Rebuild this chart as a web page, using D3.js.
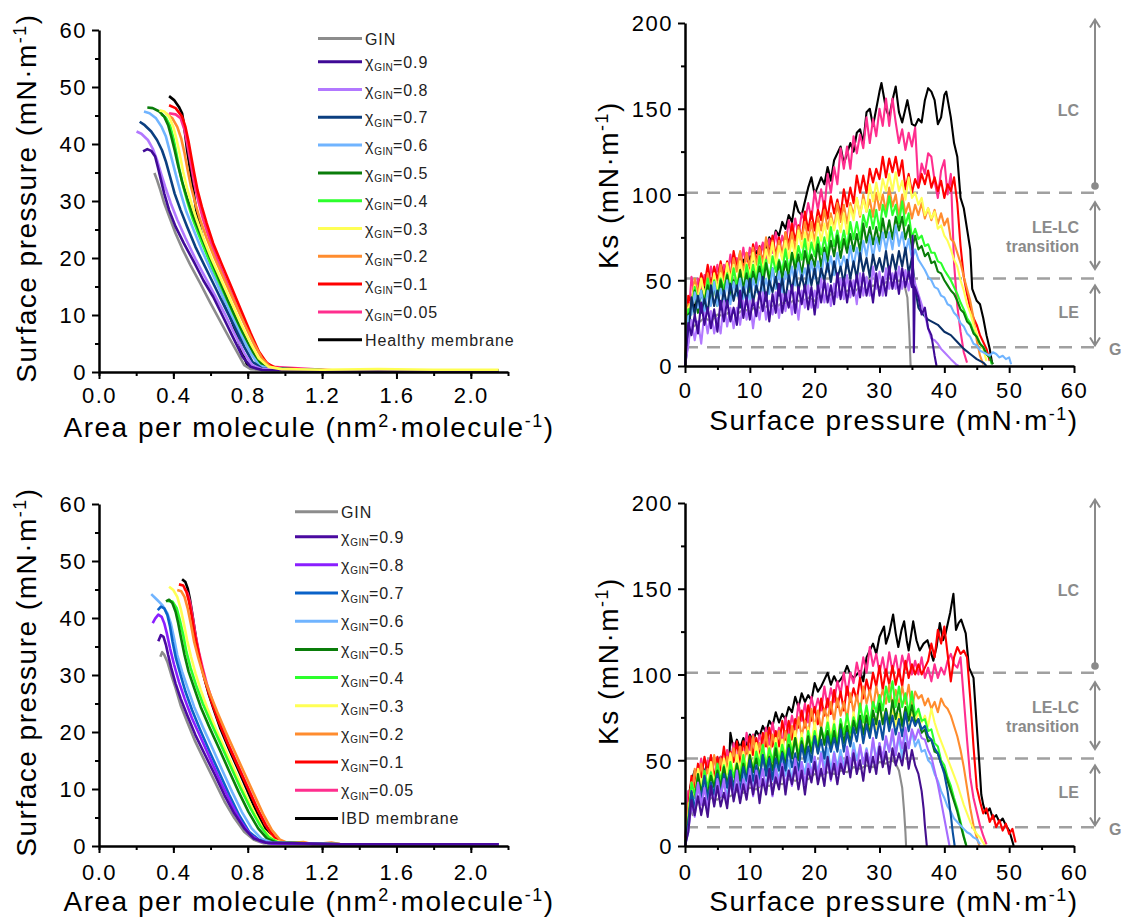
<!DOCTYPE html>
<html><head><meta charset="utf-8">
<script src="https://cdn.jsdelivr.net/npm/d3@7"></script>
<style>
body{margin:0;background:#fff;}
svg{display:block;font-family:"Liberation Sans",Arial,sans-serif;}
</style></head><body>
<svg id="c" width="1128" height="919"></svg>
<script>
// ---------- labels, colours, ticks ----------
const legendValues = ["GIN","0.9","0.8","0.7","0.6","0.5","0.4","0.3","0.2","0.1","0.05","MEMBRANE"];
const membraneTop = "Healthy membrane";
const membraneBottom = "IBD membrane";
const colorsTopIso = ["#8c8c8c","#3f0a96","#b278ff","#0b3f80","#70b4ff","#0a7d0a","#2cff2c","#ffff55","#ff8c2e","#ff0000","#ff2e8e","#000000"];
const colorsTopKs  = ["#8c8c8c","#3f0a96","#b278ff","#0a2f66","#70b4ff","#0a7d0a","#2cff2c","#ffff55","#ff8c2e","#ff0000","#ff2e8e","#000000"];
const colorsBotIso = ["#8c8c8c","#4a0aa0","#8a1fff","#0a62c8","#70b4ff","#0a7d0a","#2cff2c","#ffff55","#ff8c2e","#ff0000","#ff2e8e","#000000"];
const colorsBotKs  = ["#8c8c8c","#45108f","#a66cff","#0a4f9e","#70b4ff","#0a7d0a","#2cff2c","#ffff55","#ff8c2e","#ff0000","#ff2e8e","#000000"];
const isoXMajor = [0,0.4,0.8,1.2,1.6,2.0];
const isoXMinor = [0,0.2,0.4,0.6,0.8,1.0,1.2,1.4,1.6,1.8,2.0,2.2];
const isoYMajor = [0,10,20,30,40,50,60];
const isoYMinor = [5,15,25,35,45,55];
const ksXMajor = [0,10,20,30,40,50,60];
const ksXMinor = [5,15,25,35,45,55];
const ksYMajor = [0,50,100,150,200];
const ksYMinor = [25,75,125,175];
const phaseLines = [101,51,11];
const phaseLabels = ["LC","LE-LC","transition","LE","G"];
const phaseLabelKs = [149,81,70,31.5,10];

// ---------- top isotherms [area, pressure] ----------
const isoT_GIN=[[0.298,34.9],[0.312,33.7],[0.33,31.9],[0.351,29.6],[0.377,27.3],[0.412,24.3],[0.447,21.7],[0.491,18.8],[0.544,15.6],[0.596,12.3],[0.649,9.1],[0.702,5.9],[0.746,3.3],[0.781,1.2],[0.816,0.5],[0.9,0.3],[1.3,0.2],[1.8,0.2],[2.15,0.2]];
const isoT_09=[[0.237,38.7],[0.26,39.1],[0.281,38.8],[0.302,37.8],[0.316,36.0],[0.333,33.7],[0.351,31.3],[0.377,28.4],[0.412,25.5],[0.456,22.6],[0.509,19.4],[0.561,16.1],[0.614,13.2],[0.667,9.7],[0.719,6.2],[0.772,2.7],[0.816,0.9],[0.877,0.35],[1.3,0.2],[1.8,0.2],[2.15,0.2]];
const isoT_08=[[0.202,42.2],[0.228,41.8],[0.263,40.7],[0.289,39.2],[0.312,37.2],[0.333,34.9],[0.356,32.5],[0.386,29.6],[0.421,26.7],[0.465,23.5],[0.518,19.9],[0.57,16.7],[0.623,13.5],[0.675,10.3],[0.728,6.8],[0.781,3.3],[0.825,1.2],[0.877,0.5],[1.3,0.2],[1.8,0.2],[2.15,0.2]];
const isoT_07=[[0.219,43.9],[0.246,43.3],[0.281,42.2],[0.312,40.7],[0.339,38.9],[0.36,36.9],[0.382,34.3],[0.407,31.3],[0.439,28.4],[0.474,25.5],[0.518,22.0],[0.57,18.5],[0.623,15.0],[0.675,11.5],[0.728,8.0],[0.781,4.4],[0.825,1.8],[0.877,0.6],[1.3,0.2],[1.8,0.2],[2.15,0.2]];
const isoT_06=[[0.242,45.7],[0.272,45.4],[0.307,44.5],[0.337,43.0],[0.36,41.3],[0.377,39.2],[0.395,36.9],[0.418,34.0],[0.442,31.1],[0.47,28.1],[0.509,24.9],[0.553,21.4],[0.605,17.6],[0.658,13.8],[0.711,10.0],[0.763,6.5],[0.816,3.3],[0.86,1.2],[0.912,0.6],[1.3,0.2],[1.8,0.2],[2.15,0.2]];
const isoT_05=[[0.26,46.4],[0.289,46.3],[0.325,45.7],[0.351,44.8],[0.372,43.3],[0.389,41.3],[0.407,38.9],[0.425,36.3],[0.447,33.4],[0.474,30.5],[0.505,27.5],[0.544,24.3],[0.588,20.8],[0.64,16.7],[0.693,12.6],[0.746,8.8],[0.798,5.3],[0.842,2.7],[0.886,1.1],[0.93,0.6],[1.3,0.2],[1.8,0.2],[2.15,0.2]];
const isoT_04=[[0.335,45.2],[0.36,44.6],[0.382,43.2],[0.4,41.0],[0.416,38.4],[0.432,35.6],[0.452,32.7],[0.476,29.8],[0.505,26.8],[0.54,23.8],[0.582,20.4],[0.632,16.6],[0.685,12.8],[0.738,9.0],[0.79,5.5],[0.836,2.8],[0.88,1.1],[0.925,0.6],[1.3,0.2],[1.8,0.2],[2.15,0.2]];
const isoT_03=[[0.325,45.9],[0.351,45.7],[0.377,44.8],[0.4,43.0],[0.418,40.7],[0.435,38.1],[0.453,35.1],[0.474,32.2],[0.5,29.3],[0.526,26.7],[0.561,23.5],[0.605,19.9],[0.658,16.1],[0.711,12.3],[0.763,8.5],[0.816,5.0],[0.86,2.4],[0.912,0.9],[0.982,0.5],[1.2,0.4],[1.5,0.5],[1.8,0.4],[2.15,0.4]];
const isoT_02=[[0.36,45.4],[0.395,44.5],[0.421,43.0],[0.442,41.0],[0.46,38.4],[0.477,35.4],[0.495,32.5],[0.518,29.6],[0.544,26.7],[0.579,23.5],[0.623,19.9],[0.675,16.1],[0.728,12.3],[0.781,8.5],[0.833,5.0],[0.877,2.4],[0.921,0.9],[0.97,0.5],[1.3,0.2],[1.8,0.2],[2.15,0.2]];
const isoT_01=[[0.377,46.8],[0.412,46.3],[0.447,44.8],[0.465,43.0],[0.482,40.4],[0.496,37.8],[0.512,34.9],[0.53,31.9],[0.553,29.0],[0.579,26.1],[0.614,22.6],[0.658,19.1],[0.711,15.0],[0.763,10.9],[0.816,6.8],[0.86,3.6],[0.904,1.5],[0.947,0.8],[0.98,0.6],[1.3,0.2],[1.8,0.2],[2.15,0.2]];
const isoT_005=[[0.377,45.4],[0.412,45.2],[0.439,44.5],[0.46,42.5],[0.477,39.5],[0.495,36.3],[0.512,33.1],[0.535,29.9],[0.561,26.7],[0.596,23.2],[0.64,19.4],[0.693,15.3],[0.746,11.2],[0.798,7.4],[0.842,4.4],[0.886,2.1],[0.93,0.9],[1.3,0.2],[1.8,0.2],[2.15,0.2]];
const isoT_H=[[0.377,48.4],[0.404,47.7],[0.43,46.5],[0.447,45.4],[0.456,43.6],[0.465,41.3],[0.474,38.9],[0.488,36.0],[0.5,33.7],[0.512,30.8],[0.526,27.8],[0.547,24.9],[0.57,22.0],[0.605,18.5],[0.649,15.0],[0.693,10.9],[0.737,6.8],[0.772,3.3],[0.798,1.2],[0.833,0.6],[1.3,0.2],[1.8,0.2],[2.15,0.2]];

// ---------- bottom isotherms ----------
const isoB_GIN=[[0.33,33.2],[0.34,34.0],[0.35,33.6],[0.368,32.3],[0.389,30.0],[0.412,27.7],[0.439,24.7],[0.474,21.8],[0.518,18.3],[0.57,14.8],[0.623,11.3],[0.675,7.8],[0.728,4.9],[0.781,2.5],[0.833,1.1],[0.886,0.5],[1.3,0.3],[1.8,0.3],[2.15,0.3]];
const isoB_09=[[0.319,35.9],[0.333,37.0],[0.347,36.7],[0.36,35.3],[0.372,33.5],[0.389,31.2],[0.412,28.5],[0.439,25.9],[0.474,23.0],[0.518,19.5],[0.57,16.0],[0.623,12.5],[0.675,8.9],[0.728,5.7],[0.781,3.1],[0.833,1.3],[0.895,0.6],[1.3,0.3],[1.8,0.3],[2.15,0.3]];
const isoB_08=[[0.289,39.1],[0.302,39.9],[0.319,40.6],[0.337,40.2],[0.351,39.1],[0.365,37.3],[0.382,34.7],[0.404,31.8],[0.43,28.8],[0.46,25.9],[0.5,22.4],[0.553,18.6],[0.605,14.8],[0.658,11.0],[0.711,7.5],[0.763,4.3],[0.816,1.9],[0.868,0.8],[0.93,0.4],[1.3,0.3],[1.8,0.3],[2.15,0.3]];
const isoB_07=[[0.316,41.4],[0.333,42.0],[0.351,41.7],[0.368,40.5],[0.382,38.5],[0.396,35.8],[0.414,32.9],[0.439,30.0],[0.465,27.1],[0.5,23.9],[0.544,20.4],[0.596,16.5],[0.649,12.7],[0.702,8.9],[0.754,5.4],[0.807,2.5],[0.86,1.1],[0.912,0.5],[1.3,0.3],[1.8,0.3],[2.15,0.3]];
const isoB_06=[[0.281,44.2],[0.312,43.2],[0.342,42.2],[0.368,40.8],[0.386,39.1],[0.404,36.4],[0.421,33.5],[0.447,30.6],[0.477,27.7],[0.512,24.4],[0.558,20.9],[0.611,17.1],[0.663,13.3],[0.716,9.5],[0.768,6.0],[0.821,3.1],[0.874,1.3],[0.93,0.6],[1.3,0.3],[1.8,0.3],[2.15,0.3]];
const isoB_05=[[0.36,42.9],[0.377,43.2],[0.395,42.6],[0.412,41.1],[0.426,39.1],[0.442,36.4],[0.46,33.5],[0.482,30.6],[0.512,27.7],[0.547,24.4],[0.593,20.9],[0.646,17.1],[0.698,13.3],[0.751,9.5],[0.804,6.0],[0.856,3.1],[0.904,1.3],[0.956,0.6],[1.3,0.3],[1.8,0.3],[2.15,0.3]];
const isoB_04=[[0.368,43.0],[0.395,42.9],[0.418,41.7],[0.435,39.6],[0.453,37.0],[0.47,34.1],[0.493,31.2],[0.522,28.2],[0.558,25.0],[0.604,21.5],[0.657,17.7],[0.709,13.9],[0.762,10.1],[0.815,6.6],[0.866,3.6],[0.914,1.5],[0.965,0.6],[1.3,0.3],[1.8,0.3],[2.15,0.3]];
const isoB_03=[[0.377,45.5],[0.4,44.9],[0.421,43.7],[0.439,41.7],[0.456,39.1],[0.474,36.1],[0.495,33.2],[0.519,30.3],[0.547,27.4],[0.582,24.2],[0.628,20.6],[0.681,16.8],[0.733,13.0],[0.786,9.2],[0.839,5.7],[0.886,2.8],[0.939,1.1],[0.991,0.5],[1.3,0.3],[1.8,0.3],[2.15,0.3]];
const isoB_02=[[0.421,44.9],[0.442,44.7],[0.46,43.7],[0.477,41.7],[0.495,38.8],[0.512,35.8],[0.535,32.9],[0.561,30.0],[0.596,26.8],[0.635,23.6],[0.681,20.1],[0.733,16.3],[0.786,12.5],[0.839,8.7],[0.886,5.4],[0.93,2.8],[0.974,1.1],[1.018,0.5],[1.1,0.7],[1.15,0.3],[1.25,0.6],[1.3,0.3],[1.8,0.3],[2.15,0.3]];
const isoB_01=[[0.43,45.9],[0.453,45.7],[0.47,44.6],[0.484,42.9],[0.498,40.5],[0.512,37.6],[0.53,34.7],[0.549,31.8],[0.572,28.8],[0.602,25.6],[0.64,22.1],[0.688,18.3],[0.74,14.5],[0.793,10.7],[0.846,6.9],[0.895,3.7],[0.944,1.5],[0.991,0.6],[1.3,0.3],[1.8,0.3],[2.15,0.3]];
const isoB_005=[[0.46,45.2],[0.477,44.3],[0.491,42.6],[0.505,39.9],[0.519,37.0],[0.537,34.1],[0.558,31.2],[0.582,28.2],[0.614,25.0],[0.653,21.5],[0.698,17.7],[0.751,13.9],[0.804,10.1],[0.856,6.3],[0.904,3.4],[0.947,1.3],[0.991,0.6],[1.3,0.3],[1.8,0.3],[2.15,0.3]];
const isoB_IBD=[[0.447,46.8],[0.465,46.3],[0.477,45.2],[0.488,43.5],[0.5,41.1],[0.512,38.5],[0.526,35.6],[0.544,32.6],[0.565,29.7],[0.589,26.8],[0.618,23.9],[0.653,20.6],[0.698,17.1],[0.746,13.6],[0.793,10.1],[0.839,6.6],[0.881,3.7],[0.926,1.5],[0.974,0.6],[1.3,0.3],[1.8,0.3],[2.15,0.3]];

// ---------- compressibility: Ks read at these surface pressures, then tails [pressure, Ks] ----------
const piGrid=[0,0.5,1,1.5,2,2.5,3,3.5,4,4.5,5,5.5,6,6.5,7,7.5,8,8.5,9,9.5,10,10.5,11,11.5,12,12.5,13,13.5,14,14.5,15,15.5,16,16.5,17,17.5,18,18.5,19,19.5,20,20.5,21,21.5,22,22.5,23,23.5,24,24.5,25,25.5,26,26.5,27,27.5,28,28.5,29,29.5,30,30.5,31,31.5,32,32.5,33,33.5,34,34.5,35];

// top panel (healthy)
const ksT_GIN=[[0,2],[0.5,15],[1,22],[2,25],[3,28],[4,26],[5,30],[6,29],[7,32],[8,30],[9,33],[10,32],[11,35],[12,33],[13,36],[14,34],[15,37],[16,36],[17,39],[18,37],[19,40],[20,38],[21,41],[22,40],[23,43],[24,41],[25,44],[26,43],[27,46],[28,44],[29,47],[30,46],[31,49],[32,47],[33,50],[33.8,48],[34.3,40],[34.6,20],[34.8,0]];
const ksT_09_body=[0,25,18,30,19,37,24,34,22,33,20,38,26,38,26,34,24,44,28,40,27,39,29,43,32,43,26,42,31,48,31,42,34,47,31,46,36,47,33,46,30,47,37,50,37,47,36,54,39,51,37,50,41,53,40,54,41,50,37,54,41,52,41,58,45,55,42,57,46,55,46];
const ksT_09_tail=[[35.1,76],[35.25,35],[35.3,8],[35.45,46],[36,40],[36.5,30],[37,34],[37.5,22],[38,18],[38.5,6],[38.8,0]];
const ksT_08_body=[0,12,27,15,26,13,31,19,32,19,28,19,38,23,34,22,34,24,38,27,38,22,37,27,43,27,38,30,43,28,42,32,44,30,43,27,44,34,47,34,44,34,51,37,48,35,48,40,51,39,53,40,50,36,54,41,52,41,58,45,55,41,57,45,54,45,58,45,56,44,56];
const ksT_08_tail=[[35.5,48],[36,42],[36.5,36],[37,30],[37.5,22],[38,16],[38.5,15],[39,13],[39.5,10],[40,8],[41,4],[41.8,1],[42.2,0]];
const ksT_07_body=[0,14,40,30,41,31,39,31,47,35,44,33,44,35,48,38,47,34,46,38,51,37,47,40,52,38,50,43,52,41,51,38,53,44,56,44,53,44,59,47,57,45,57,50,60,49,61,51,58,48,62,51,61,51,66,55,63,52,65,56,63,55,67,54,65,56,67,58,69,54,63];
const ksT_07_tail=[[35.5,45],[36,34],[36.5,31],[37,29],[37.5,27],[38,26],[39,24],[40,20],[41,18],[42,14],[43,10],[44,7],[45,4],[46,2],[46.5,0]];
const ksT_06_body=[0,29,30,43,34,44,31,44,35,49,35,45,38,50,36,49,41,51,39,50,37,51,43,54,43,51,42,57,45,55,43,55,48,58,47,60,50,57,47,61,51,61,51,66,55,64,53,66,57,64,57,70,58,69,61,73,64,76,63,75,67,78,68,78,68,82,70,78,66,74,62];
const ksT_06_tail=[[35.5,68],[36,62],[36.5,59],[37,56],[37.5,52],[38,50],[38.5,46],[39,45],[39.5,41],[40,40],[40.5,36],[41,35],[41.5,31],[42,29],[42.5,25],[43,23],[43.5,19],[44,17],[44.5,13],[45,12],[45.5,9],[46,8],[47,6],[47.5,8],[48,7],[48.5,5],[49,6],[49.5,4],[50,5],[50.3,1]];
const ksT_05_body=[0,30,32,44,31,44,37,47,36,47,35,50,41,53,41,50,42,56,45,54,43,55,48,58,47,60,50,57,47,61,51,61,51,66,56,65,53,67,58,65,58,71,58,69,61,73,64,76,63,74,66,77,67,77,67,83,72,81,71,81,71,86,75,85,74,87,79,87,74,82,68];
const ksT_05_tail=[[35.5,76],[36,68],[36.5,70],[37,64],[37.5,66],[38,60],[38.5,61],[39,55],[39.5,54],[40,50],[40.5,47],[41,44],[41.5,42],[42,38],[42.5,33],[43,31],[43.5,26],[44,24],[44.5,19],[45,17],[45.5,13],[46,11],[46.5,7],[47,5],[47.5,1]];
const ksT_04_body=[0,33,33,46,35,44,36,51,40,50,39,51,45,54,44,57,47,55,44,59,49,59,49,64,53,62,51,64,55,62,55,68,56,66,58,70,62,74,60,72,64,75,65,75,65,81,70,79,69,79,69,84,74,84,74,88,81,91,80,91,79,94,87,99,88,94,83,96,82,89,75];
const ksT_04_tail=[[35.5,80],[36,74],[36.5,76],[37,70],[37.5,71],[38,66],[38.5,66],[39,61],[39.5,60],[40,56],[40.5,53],[41,50],[41.5,46],[42,42],[42.5,37],[43,33],[43.5,28],[44,25],[44.5,20],[45,17],[45.5,13],[46,11],[46.5,7],[47,5],[47.3,1]];
const ksT_03_body=[0,34,37,47,38,51,41,49,39,54,44,54,45,60,50,59,47,61,52,60,53,66,54,64,56,68,60,72,58,70,62,73,63,73,63,79,69,78,68,78,68,83,73,83,73,86,79,89,78,89,77,93,85,98,88,97,90,106,96,107,97,109,102,112,102,113,102,108,97,110,98];
const ksT_03_tail=[[35.5,101],[36,94],[36.5,98],[37,88],[37.5,92],[38,86],[38.5,90],[39,80],[39.5,82],[40,76],[40.5,73],[41,68],[41.5,62],[42,58],[42.5,50],[43,44],[43.5,36],[44,31],[44.5,24],[45,19],[45.5,13],[46,10],[46.5,3]];
const ksT_02_body=[0,36,36,51,42,51,40,54,45,53,46,59,47,58,50,63,55,67,54,66,58,69,59,69,59,75,64,73,63,73,63,78,68,78,68,81,74,84,73,84,72,87,79,91,80,89,80,95,84,94,83,95,88,98,87,100,90,97,87,101,91,100,90,104,93,100,87,100,89,95,86];
const ksT_02_tail=[[35.5,94],[36,88],[36.5,95],[37,86],[37.5,92],[38,85],[38.5,91],[39,83],[39.5,89],[40,82],[40.5,86],[41,74],[41.5,72],[42,66],[42.5,60],[43,52],[43.5,45],[44,38],[44.5,28],[45,15],[45.5,6],[46,1]];
const ksT_01_body=[0,41,37,49,42,54,47,59,46,58,50,61,51,61,51,67,57,66,56,66,56,71,61,70,60,73,66,76,64,75,63,78,71,83,73,82,74,90,79,90,79,91,85,96,86,99,89,97,88,103,93,104,95,111,101,111,101,115,107,115,109,122,110,121,113,122,111,120,103,112,101];
const ksT_01_tail=[[35.5,109],[36,104],[36.5,112],[37,106],[37.5,114],[38,104],[38.5,110],[39,102],[39.5,108],[40,98],[40.5,106],[41,102],[41.5,110],[42,95],[42.5,70],[43,52],[43.5,42],[44,34],[44.5,28],[45,24],[45.5,18],[46,14],[46.5,10],[47,3]];
const ksT_005_body=[0,26,52,41,51,42,53,45,58,49,59,46,59,51,65,53,63,57,69,56,69,62,72,61,72,60,74,66,78,67,76,69,85,75,86,76,89,84,95,86,102,91,103,91,112,101,116,106,127,115,128,115,134,124,135,127,145,130,144,134,150,140,156,140,156,142,130,138,126,136,128];
const ksT_005_tail=[[35.5,139],[36,104],[36.5,118],[37,112],[37.5,124],[38,122],[38.5,108],[39,98],[39.5,114],[40,120],[40.5,100],[41,112],[41.5,60],[42,35],[42.5,20],[43,8],[43.5,2]];
const ksT_H=[[0,0],[0.3,15],[0.6,30],[1,38],[1.5,34],[2,44],[2.5,40],[3,47],[3.5,44],[4,50],[4.5,46],[5,52],[5.5,48],[6,55],[6.5,51],[7,54],[7.5,56],[8,58],[8.5,55],[9,62],[9.5,58],[10,64],[10.5,61],[11,67],[11.5,64],[12,71],[12.5,67],[13,75],[13.5,71],[14,79],[14.5,76],[15,84],[15.5,80],[16,88],[16.5,84],[17,96],[17.5,90],[18,88],[18.5,96],[19,104],[19.5,110],[20,100],[21,110],[21.5,106],[22,116],[22.5,108],[23,120],[24,128],[24.5,118],[25,124],[25.5,130],[26,125],[26.5,136],[27,138],[27.5,130],[28,148],[28.5,150],[29,140],[29.5,150],[30,160],[30.3,165],[31,150],[31.5,145],[32,155],[32.5,163],[33,148],[33.5,142],[34,150],[34.3,155],[35,141],[35.5,140],[36,144],[36.5,142],[37,155],[37.5,162],[38,160],[38.5,155],[39,141],[39.5,145],[40,158],[40.3,160],[41,145],[41.5,130],[42,122],[42.5,98],[43,92],[43.5,80],[44,68],[44.3,45],[45,38],[45.5,36],[46,28],[46.5,18],[47,10],[47.4,1]];

// bottom panel (IBD)
const ksB_GIN=[[0,0],[0.4,14],[0.8,22],[1.2,18],[2,26],[3,24],[4,28],[5,27],[6,30],[7,29],[8,32],[9,31],[10,34],[11,33],[12,36],[13,35],[14,37],[15,36],[16,39],[17,38],[18,40],[19,39],[20,42],[21,41],[22,43],[23,42],[24,44],[25,43],[26,46],[27,45],[28,47],[29,46],[30,49],[31,48],[32,50],[32.5,48],[33,44],[33.5,34],[33.8,20],[34,8],[34.1,0]];
const ksB_09_body=[0,8,27,18,29,18,28,17,35,23,35,23,31,22,40,26,36,25,36,27,41,30,41,25,39,30,45,30,40,33,46,30,44,36,46,33,44,30,45,37,49,36,45,35,52,39,48,36,48,42,52,40,54,42,50,38,54,43,52,42,58,46,55,42,57,47,54,47,60,45,56];
const ksB_09_tail=[[35.5,47],[36,42],[36.5,32],[36.8,22],[37,12],[37.2,4],[37.3,0]];
const ksB_08_body=[0,9,24,17,37,24,34,22,34,24,39,29,39,24,37,28,44,28,39,32,45,29,44,35,45,32,43,29,45,36,48,35,44,35,51,39,49,36,48,42,52,39,54,42,50,38,54,42,52,42,58,47,56,43,59,48,56,48,63,48,60,51,64,55,68,53,66,57,69,57,68];
const ksB_08_tail=[[35.5,62],[36,68],[36.5,63],[37,62],[37.5,56],[38,52],[38.5,44],[39,36],[39.5,26],[40,16],[40.4,8],[40.8,0]];
const ksB_07_body=[0,13,32,21,36,27,41,27,37,30,42,29,42,34,44,33,44,32,46,38,50,38,47,38,53,41,51,39,51,44,54,44,57,46,54,44,59,49,58,49,64,54,62,51,64,55,63,55,68,55,66,58,69,61,73,60,71,63,74,63,73,62,78,67,76,65,74,64,78,67,75];
const ksB_07_tail=[[35.5,70],[36,74],[36.5,68],[37,70],[37.5,64],[38,62],[38.5,57],[39,54],[39.5,48],[40,42],[40.5,32],[41,18],[41.3,8],[41.6,0]];
const ksB_06_body=[0,8,30,25,36,25,35,23,37,29,40,29,37,29,43,32,42,30,42,35,45,35,47,37,44,34,48,38,47,38,52,41,50,38,52,42,49,42,54,42,52,43,55,46,57,44,55,46,56,46,55,45,60,50,58,48,57,47,61,51,60,50,62,55,65,53,64,51,66,57,67];
const ksB_06_tail=[[35.5,58],[36,62],[36.5,55],[37,56],[37.5,50],[38,48],[38.5,42],[39,38],[39.5,32],[40,28],[40.5,23],[41,20],[41.5,16],[42,14],[42.5,12],[43,10],[43.5,8],[44,7],[44.5,5],[45,4],[45.5,1]];
const ksB_05_body=[0,13,31,25,42,31,40,29,41,34,44,34,46,36,44,34,48,38,48,38,53,43,51,40,53,44,52,44,57,44,55,47,59,51,63,50,61,53,64,54,64,54,69,59,67,57,67,56,71,60,70,60,73,66,76,65,76,64,79,71,83,71,80,71,85,74,83,70,81,73,82];
const ksB_05_tail=[[35.5,72],[36,74],[36.5,66],[37,68],[37.5,61],[38,62],[38.5,55],[39,54],[39.5,48],[40,44],[40.5,38],[41,32],[41.5,26],[42,20],[42.6,11],[43,5],[43.4,0]];
const ksB_04_body=[0,15,37,30,40,30,44,34,43,34,48,38,47,35,49,40,48,41,53,41,52,44,55,47,59,46,57,49,60,49,59,49,65,54,63,53,63,53,67,57,67,57,69,62,72,61,71,59,74,65,77,66,75,68,83,72,82,71,84,78,88,79,93,84,96,81,93,81,89,77,90];
const ksB_04_tail=[[35.5,76],[36,80],[36.5,73],[37,74],[37.5,67],[38,68],[38.5,60],[39,58],[39.5,50],[40,47],[40.5,40],[41,35],[41.5,28],[42,22],[42.5,14],[43,6],[43.4,0]];
const ksB_03_body=[0,17,37,29,45,36,43,36,49,36,47,39,51,42,54,41,53,45,55,45,55,45,60,50,59,48,58,48,63,52,62,52,64,57,67,55,66,54,69,60,72,60,69,60,75,63,73,61,73,66,76,65,78,67,75,64,79,68,78,68,83,72,80,68,81,70,77,69,81,68,78];
const ksB_03_tail=[[35.5,72],[36,78],[36.5,72],[37,76],[37.5,70],[38,80],[38.5,72],[39,66],[39.5,61],[40,56],[40.5,51],[41,46],[41.5,41],[42,36],[42.5,30],[43,24],[43.5,19],[44,14],[44.5,10],[45,7],[45.5,5],[46,2],[46.3,0]];
const ksB_02_body=[0,25,26,45,37,48,37,45,37,53,41,51,41,52,44,57,48,58,45,58,50,64,50,60,54,66,52,65,58,67,56,67,55,70,62,75,64,73,65,80,69,79,68,80,74,84,73,86,76,84,74,89,78,88,78,93,83,91,80,93,84,91,83,94,81,91,82,93,83,94,80];
const ksB_02_tail=[[35.5,90],[36,86],[36.5,88],[37,82],[37.5,86],[38,80],[38.5,84],[39,78],[39.5,86],[40,82],[40.5,80],[41,76],[41.5,70],[42,64],[42.5,56],[43,46],[43.5,34],[44,22],[44.5,12],[45,5],[45.4,0]];
const ksB_01_body=[0,21,41,34,48,40,52,43,53,39,52,44,58,45,55,49,61,48,61,54,64,53,63,51,66,58,69,58,67,58,73,62,73,62,74,69,79,69,82,73,81,71,86,76,86,77,91,81,90,79,93,84,92,85,98,86,97,89,101,93,105,91,103,94,105,94,103,93,108,98,106];
const ksB_01_tail=[[35.5,100],[36,106],[36.5,100],[37,104],[37.5,108],[38,118],[38.5,110],[39,126],[39.5,118],[40,128],[40.5,112],[41,96],[41.5,110],[42,116],[42.5,112],[43,114],[43.5,110],[44,86],[44.5,58],[45,34],[45.5,26],[46,19],[46.5,22],[47,14],[47.5,18],[48,11],[48.5,15],[49,9],[49.5,13],[50,7],[50.5,10],[51,2]];
const ksB_005_body=[0,32,30,43,39,51,37,50,43,52,41,52,40,56,48,60,49,58,51,66,55,65,54,65,59,69,59,72,61,69,59,75,65,76,67,83,73,83,72,87,78,86,79,93,81,92,84,96,89,101,88,101,95,107,98,110,101,116,105,112,101,110,99,113,102,111,99,111,103,112,100];
const ksB_005_tail=[[35.5,108],[36,100],[36.5,110],[37,98],[37.5,104],[38,96],[38.5,106],[39,98],[39.5,104],[40,100],[40.5,108],[41,112],[41.5,106],[42,104],[42.5,110],[43,86],[43.5,62],[44,40],[44.5,28],[45,20],[45.5,12],[46,6],[46.5,1]];
const ksB_IBD=[[0,0],[0.3,18],[0.7,32],[1,38],[1.5,44],[2,40],[2.5,47],[3,43],[3.5,49],[4,45],[4.5,50],[5,47],[5.5,52],[6,49],[6.5,53],[6.8,48],[7,66],[7.5,56],[8,62],[8.5,57],[9,63],[9.5,59],[10,65],[10.5,61],[11,67],[11.5,64],[12,70],[12.5,66],[13,73],[13.5,70],[14,78],[14.5,72],[15,77],[15.5,74],[16,81],[16.5,78],[17,87],[17.5,81],[18,89],[18.5,84],[19,88],[19.5,85],[20,95],[20.5,90],[21,93],[21.5,97],[22,101],[22.5,94],[23,99],[23.5,95],[24,97],[24.5,100],[25,105],[25.5,100],[26,98],[27,102],[27.5,96],[28,110],[29,118],[29.5,112],[30,122],[30.7,128],[31,118],[31.5,124],[32.1,135],[32.5,124],[32.9,116],[33.4,126],[33.8,131],[34.2,120],[34.5,114],[35,126],[35.2,131],[35.7,120],[36.2,114],[36.8,118],[37.4,120],[38,112],[38.3,108],[38.8,116],[39.3,130],[39.8,120],[40.2,124],[40.9,136],[41.4,147],[41.8,126],[42.2,130],[42.6,132],[43.3,124],[43.8,104],[44.5,98],[45,70],[45.4,48],[45.7,30],[46,24],[46.4,19],[47,22],[47.5,16],[48,18],[48.5,14],[49,16],[49.5,12],[50,9],[50.4,4],[50.7,0]];

const withGrid = (body, tail) => body.map((v,i)=>[piGrid[i],v]).concat(tail);

// series grouped in legend order (GIN, 0.9 ... 0.05, membrane)
const isoTop=[isoT_GIN,isoT_09,isoT_08,isoT_07,isoT_06,isoT_05,isoT_04,isoT_03,isoT_02,isoT_01,isoT_005,isoT_H];
const isoBot=[isoB_GIN,isoB_09,isoB_08,isoB_07,isoB_06,isoB_05,isoB_04,isoB_03,isoB_02,isoB_01,isoB_005,isoB_IBD];
const ksTop=[ksT_GIN,withGrid(ksT_09_body,ksT_09_tail),withGrid(ksT_08_body,ksT_08_tail),withGrid(ksT_07_body,ksT_07_tail),
  withGrid(ksT_06_body,ksT_06_tail),withGrid(ksT_05_body,ksT_05_tail),withGrid(ksT_04_body,ksT_04_tail),withGrid(ksT_03_body,ksT_03_tail),
  withGrid(ksT_02_body,ksT_02_tail),withGrid(ksT_01_body,ksT_01_tail),withGrid(ksT_005_body,ksT_005_tail),ksT_H];
const ksBot=[ksB_GIN,withGrid(ksB_09_body,ksB_09_tail),withGrid(ksB_08_body,ksB_08_tail),withGrid(ksB_07_body,ksB_07_tail),
  withGrid(ksB_06_body,ksB_06_tail),withGrid(ksB_05_body,ksB_05_tail),withGrid(ksB_04_body,ksB_04_tail),withGrid(ksB_03_body,ksB_03_tail),
  withGrid(ksB_02_body,ksB_02_tail),withGrid(ksB_01_body,ksB_01_tail),withGrid(ksB_005_body,ksB_005_tail),ksB_IBD];
const orderIsoTop=[11,10,9,8,6,5,4,3,2,0,1,7];
const orderIsoBot=[11,10,9,8,7,6,5,4,3,0,2,1];
const orderKs=[0,11,10,9,8,7,6,5,4,3,2,1];

// ---------- drawing ----------
const svg = d3.select("#c");

function drawAxes(x, y, xMaj, xMin, yMaj, yMin, fmt, labelOff) {
  const y0 = y.range()[0], x0 = x.range()[0];
  const style = g => {
    g.selectAll(".domain").attr("stroke","#000").attr("stroke-width",2.5);
    g.selectAll(".tick line").attr("stroke","#000").attr("stroke-width",2);
    g.selectAll(".tick text").attr("fill","#000").style("font-size","22px").style("letter-spacing","1.5px");
  };
  svg.append("g").attr("transform",`translate(0,${y0})`)
    .call(d3.axisBottom(x).tickValues(xMin).tickSize(4).tickSizeOuter(0).tickFormat(""))
    .call(style).call(g=>g.select(".domain").remove());
  svg.append("g").attr("transform",`translate(${x0},0)`)
    .call(d3.axisLeft(y).tickValues(yMin).tickSize(4).tickSizeOuter(0).tickFormat(""))
    .call(style).call(g=>g.select(".domain").remove());
  svg.append("g").attr("transform",`translate(0,${y0})`)
    .call(d3.axisBottom(x).tickValues(xMaj).tickSize(7).tickSizeOuter(0).tickFormat(fmt))
    .call(style).call(g=>g.selectAll(".tick text").attr("y",labelOff).attr("dy",0));
  svg.append("g").attr("transform",`translate(${x0},0)`)
    .call(d3.axisLeft(y).tickValues(yMaj).tickSize(7).tickSizeOuter(0).tickFormat(d3.format("d")))
    .call(style).call(g=>g.selectAll(".tick text").attr("x",-12).attr("dy","0.36em"));
}

function titleText(t, main, sup1, mid, sup2) {
  t.style("font-size","28px").style("letter-spacing","1.5px").attr("fill","#000");
  t.append("tspan").text(main);
  t.append("tspan").text(sup1).attr("dy",-10).style("font-size","18px");
  if (mid !== null) {
    t.append("tspan").text(mid).attr("dy",10);
    t.append("tspan").text(sup2).attr("dy",-10).style("font-size","18px");
  }
  t.append("tspan").text(")").attr("dy",10);
}

function drawLegend(colors, lastLabel, lx1, lx2, tx, yFirst, yStart, yStep) {
  legendValues.forEach((v,i)=>{
    const yy = i===0 ? yFirst : yStart + (i-1)*yStep;
    svg.append("line").attr("x1",lx1).attr("x2",lx2).attr("y1",yy).attr("y2",yy)
      .attr("stroke",colors[i]).attr("stroke-width",3);
    const t = svg.append("text").attr("x",tx).attr("y",yy+6).attr("fill","#222")
      .style("font-size","16px").style("letter-spacing","0.9px");
    if (i===0) t.text("GIN");
    else if (i===11) t.text(lastLabel);
    else {
      t.append("tspan").text("χ");
      t.append("tspan").text("GIN").attr("dy",3.5).style("font-size","10px").style("letter-spacing","0.3px");
      t.append("tspan").text("="+v).attr("dy",-3.5);
    }
  });
}

function isoPanel(series, colors, order, y0px, lastLabel, legendCfg, labelOff, titleBase) {
  const x = d3.scaleLinear().domain([0,2.2]).range([99,508]);
  const y = d3.scaleLinear().domain([0,60]).range([y0px, y0px-342]);
  const line = d3.line().x(d=>x(d[0])).y(d=>y(d[1]));
  order.forEach(i=>{
    svg.append("path").datum(series[i]).attr("d",line).attr("fill","none")
      .attr("stroke",colors[i]).attr("stroke-width",2.6).attr("stroke-linejoin","round");
  });
  drawAxes(x,y,isoXMajor,isoXMinor,isoYMajor,isoYMinor,d3.format(".1f"),labelOff);
  drawLegend(colors,lastLabel,...legendCfg);
  titleText(svg.append("text").attr("x",309).attr("y",titleBase).attr("text-anchor","middle"),
    "Area per molecule (nm","2","·molecule","-1");
  titleText(svg.append("text").attr("text-anchor","middle")
    .attr("transform",`translate(36,${(y.range()[0]+y.range()[1])/2-3}) rotate(-90)`),
    "Surface pressure (mN·m","-1",null,null);
}

function ksPanel(series, colors, y0px, labelOff, titleBase, ksTitleY) {
  const x = d3.scaleLinear().domain([0,60]).range([685,1074]);
  const y = d3.scaleLinear().domain([0,200]).range([y0px, y0px-343]);
  const dashEnd = 1097, ax = 1095, labRight = 1079, gLeft = 1109, ac = "#8a8a8a";
  phaseLines.forEach(v=>{
    svg.append("line").attr("x1",x(0)).attr("x2",dashEnd).attr("y1",y(v)).attr("y2",y(v))
      .attr("stroke","#a0a0a0").attr("stroke-width",2.5).attr("stroke-dasharray","13,9");
  });
  const line = d3.line().x(d=>x(d[0])).y(d=>y(d[1]));
  orderKs.forEach(i=>{
    svg.append("path").datum(series[i]).attr("d",line).attr("fill","none")
      .attr("stroke",colors[i]).attr("stroke-width",2.1).attr("stroke-linejoin","round");
  });
  drawAxes(x,y,ksXMajor,ksXMinor,ksYMajor,ksYMinor,d3.format("d"),labelOff);
  const vline = (a,b)=>svg.append("line").attr("x1",ax).attr("x2",ax).attr("y1",y(a)).attr("y2",y(b))
      .attr("stroke",ac).attr("stroke-width",2);
  const head = (v,dir)=>svg.append("path")
      .attr("d",`M${ax-5},${y(v)+dir*8}L${ax},${y(v)}L${ax+5},${y(v)+dir*8}`)
      .attr("fill","none").attr("stroke",ac).attr("stroke-width",2);
  vline(202,105); head(202,1);
  svg.append("circle").attr("cx",ax).attr("cy",y(105)).attr("r",3.8).attr("fill",ac);
  vline(95.5,56.5); head(95.5,1); head(56.5,-1);
  vline(47,12); head(47,1); head(12,-1);
  phaseLabels.forEach((txt,i)=>{
    svg.append("text").attr("x",i===4?gLeft:labRight).attr("y",y(phaseLabelKs[i])).attr("dy","0.36em")
      .attr("text-anchor",i===4?"start":"end").attr("fill",ac)
      .style("font-size","16px").style("font-weight","bold").text(txt);
  });
  titleText(svg.append("text").attr("x",894).attr("y",titleBase).attr("text-anchor","middle"),
    "Surface pressure (mN·m","-1",null,null);
  titleText(svg.append("text").attr("text-anchor","middle")
    .attr("transform",`translate(618,${ksTitleY}) rotate(-90)`),
    "Ks (mN·m","-1",null,null);
}

isoPanel(isoTop, colorsTopIso, orderIsoTop, 372, membraneTop, [318,362,365,38.5,61.7,27.8], 31, 437);
isoPanel(isoBot, colorsBotIso, orderIsoBot, 846, membraneBottom, [295,338,341,511.7,536.7,28.17], 34, 911);
ksPanel(ksTop, colorsTopKs, 366, 32, 430, 185);
ksPanel(ksBot, colorsBotKs, 846, 34, 911, 661);
</script>
</body></html>
